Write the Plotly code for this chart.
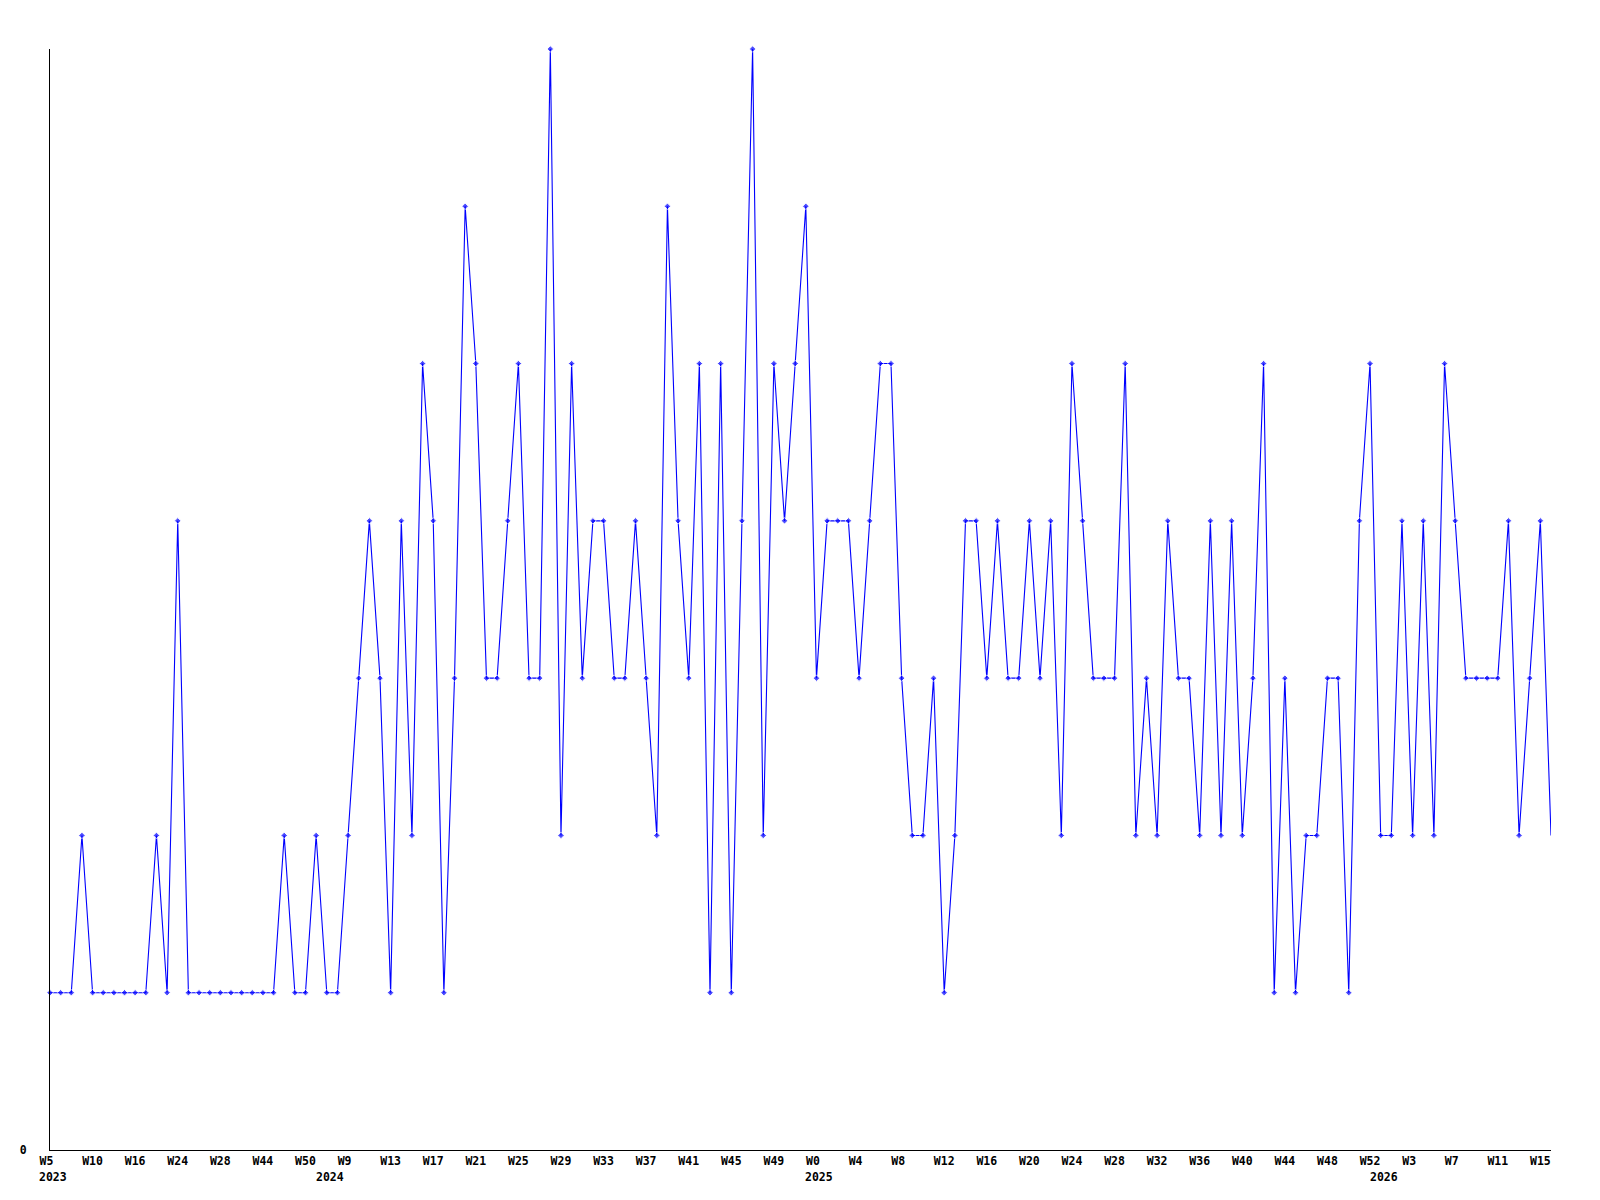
import plotly.graph_objects as go

# Weekly values (one per plotted week, left to right)
values = [1, 1, 1, 2, 1, 1, 1, 1, 1, 1, 2, 1, 4, 1, 1, 1, 1, 1, 1, 1,
          1, 1, 2, 1, 1, 2, 1, 1, 2, 3, 4, 3, 1, 4, 2, 5, 4, 1, 3, 6,
          5, 3, 3, 4, 5, 3, 3, 7, 2, 5, 3, 4, 4, 3, 3, 4, 3, 2, 6, 4,
          3, 5, 1, 5, 1, 4, 7, 2, 5, 4, 5, 6, 3, 4, 4, 4, 3, 4, 5, 5,
          3, 2, 2, 3, 1, 2, 4, 4, 3, 4, 3, 3, 4, 3, 4, 2, 5, 4, 3, 3,
          3, 5, 2, 3, 2, 4, 3, 3, 2, 4, 2, 4, 2, 3, 5, 1, 3, 1, 2, 2,
          3, 3, 1, 4, 5, 2, 2, 4, 2, 4, 2, 5, 4, 3, 3, 3, 3, 4, 2, 3,
          4, 2]

# Tick labels, one every 4 weeks
tick_labels = ["W5", "W10", "W16", "W24", "W28", "W44", "W50", "W9", "W13",
               "W17", "W21", "W25", "W29", "W33", "W37", "W41", "W45", "W49",
               "W0", "W4", "W8", "W12", "W16", "W20", "W24", "W28", "W32",
               "W36", "W40", "W44", "W48", "W52", "W3", "W7", "W11", "W15"]
tick_step = 4

# Year labels and the index of the first week of each year
years = ["2023", "2024", "2025", "2026"]
year_start = [0, 26, 72, 125]

n = len(values)
x = list(range(n))
tickvals = [i * tick_step for i in range(len(tick_labels))]
# pad short labels so they sit left-aligned like the reference
ticktext = [t + "\u00a0" * (3 - len(t)) for t in tick_labels]

font = dict(family="DejaVu Sans Mono", size=11.5, color="black", weight="bold")

sizes = [5] * (n - 1) + [0]

fig = go.Figure()
fig.add_trace(go.Scatter(
    x=x, y=values, mode="lines+markers",
    line=dict(color="#0000FF", width=1.1),
    marker=dict(symbol="diamond", size=sizes, color="#0000FF"),
    cliponaxis=False,
    hoverinfo="skip",
))

for yr, idx in zip(years, year_start):
    fig.add_annotation(
        x=idx, y=0, xref="x", yref="paper",
        text=yr, showarrow=False,
        xanchor="left", yanchor="top",
        xshift=-13, yshift=-18,
        font=font,
    )

fig.update_layout(
    width=1600, height=1200,
    margin=dict(l=42, r=57, t=41, b=58),
    paper_bgcolor="white", plot_bgcolor="white",
    showlegend=False,
    xaxis=dict(
        range=[0, n - 1], tickmode="array", tickvals=tickvals, ticktext=ticktext,
        showgrid=False, zeroline=False, showline=True, linecolor="black",
        linewidth=1, ticks="", tickfont=font, tickangle=0,
    ),
    yaxis=dict(
        range=[0, 7], tickmode="array", tickvals=[0], ticktext=["0"],
        showgrid=False, zeroline=False, showline=True, linecolor="black",
        linewidth=1, ticks="", tickfont=font, ticklabelstandoff=20,
    ),
)

fig.write_html("out.html")
